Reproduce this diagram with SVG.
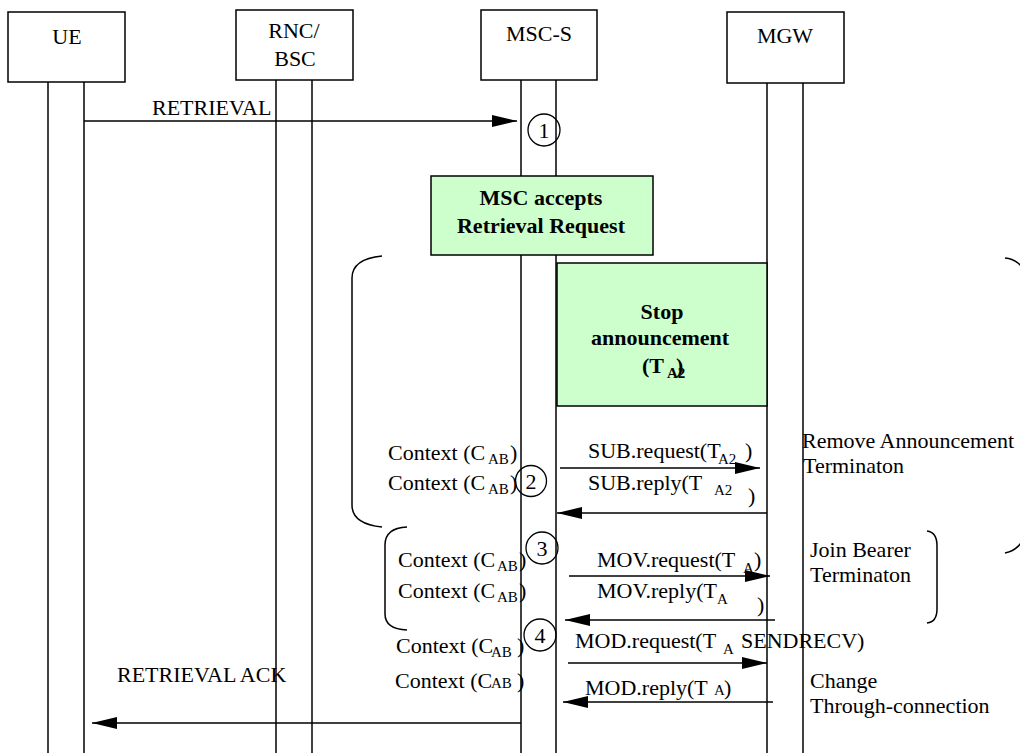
<svg xmlns="http://www.w3.org/2000/svg" width="1020" height="753" viewBox="0 0 1020 753">
<defs>
<marker id="ah" markerUnits="userSpaceOnUse" markerWidth="25" markerHeight="12" refX="25" refY="6" orient="auto">
<path d="M0,0 L25,6 L0,12 z" fill="#000"/>
</marker>
<style>
.t{font-family:"Liberation Serif","Times New Roman",serif;font-size:22px;fill:#000}
.s{font-family:"Liberation Serif","Times New Roman",serif;font-size:15px;fill:#000}
.b{font-family:"Liberation Serif","Times New Roman",serif;font-size:22px;font-weight:bold;fill:#000}
.bs{font-family:"Liberation Serif","Times New Roman",serif;font-size:15px;font-weight:bold;fill:#000}
.box{fill:#fff;stroke:#000;stroke-width:1.5}
.act{fill:#ccffcc;stroke:#000;stroke-width:1.5}
.ll{stroke:#000;stroke-width:1.5;fill:none}
.msg{stroke:#000;stroke-width:1.5;fill:none}
.br{stroke:#000;stroke-width:1.5;fill:none}
.c{fill:none;stroke:#000;stroke-width:1.3}
</style>
</defs>
<g id="lifelines">
<line class="ll" x1="48" y1="82" x2="48" y2="753"/>
<line class="ll" x1="84" y1="82" x2="84" y2="753"/>
<line class="ll" x1="276" y1="80" x2="276" y2="753"/>
<line class="ll" x1="312" y1="80" x2="312" y2="753"/>
<line class="ll" x1="521" y1="80" x2="521" y2="753"/>
<line class="ll" x1="556" y1="80" x2="556" y2="753"/>
<line class="ll" x1="767" y1="83" x2="767" y2="753"/>
<line class="ll" x1="803" y1="83" x2="803" y2="753"/>
</g>
<g id="UE">
<rect class="box" x="8" y="12" width="117" height="70"/>
<text class="t" x="67" y="44" text-anchor="middle">UE</text>
</g>
<g id="RNC">
<rect class="box" x="236" y="10" width="117" height="70"/>
<text class="t" x="294" y="38" text-anchor="middle">RNC/</text>
<text class="t" x="295" y="66" text-anchor="middle">BSC</text>
</g>
<g id="MSC">
<rect class="box" x="481" y="10" width="116" height="70"/>
<text class="t" x="539" y="41" text-anchor="middle">MSC-S</text>
</g>
<g id="MGW">
<rect class="box" x="727" y="12" width="117" height="71"/>
<text class="t" x="785" y="43" text-anchor="middle">MGW</text>
</g>
<g id="accept">
<rect class="act" x="431" y="176" width="222" height="79"/>
<text class="b" x="541" y="205" text-anchor="middle">MSC accepts</text>
<text class="b" x="541" y="233" text-anchor="middle">Retrieval Request</text>
</g>
<g id="stop">
<rect class="act" x="557" y="263" width="210" height="143"/>
<text class="b" x="662" y="319" text-anchor="middle">Stop</text>
<text class="b" x="660" y="345" text-anchor="middle">announcement</text>
<text class="b" x="642" y="373">(T</text>
<text class="b" x="676" y="373">)</text>
<text class="bs" x="667" y="378">A2</text>
</g>
<g id="steps">
<circle class="c" cx="544" cy="130" r="16"/>
<text class="t" x="544" y="138" text-anchor="middle" font-size="21">1</text>
<circle class="c" cx="531" cy="481" r="15.5"/>
<text class="t" x="531" y="489" text-anchor="middle">2</text>
<circle class="c" cx="542" cy="548" r="16"/>
<text class="t" x="542" y="556" text-anchor="middle">3</text>
<circle class="c" cx="540" cy="635" r="16"/>
<text class="t" x="540" y="643" text-anchor="middle">4</text>
</g>
<g id="brackets">
<path class="br" d="M382,256 Q352,259 352,278 L352,505 Q352,524 382,527"/>
<path class="br" d="M407,527 Q385,528 385,545 L385,614 Q385,629 407,630"/>
<path class="br" d="M927,531 Q937,532 937,546 L937,609 Q937,622 927,623"/>
<path class="br" d="M1005,258 Q1015,259 1021,266"/>
<path class="br" d="M1005,553 Q1015,551 1021,543"/>
</g>
<g id="connectors">
<line class="msg" x1="84" y1="121" x2="517" y2="121" marker-end="url(#ah)"/>
<line class="msg" x1="560" y1="468" x2="760" y2="468" marker-end="url(#ah)"/>
<line class="msg" x1="767" y1="513" x2="557" y2="513" marker-end="url(#ah)"/>
<line class="msg" x1="569" y1="576" x2="770" y2="576" marker-end="url(#ah)"/>
<line class="msg" x1="775" y1="620" x2="565" y2="620" marker-end="url(#ah)"/>
<line class="msg" x1="568" y1="663" x2="767" y2="663" marker-end="url(#ah)"/>
<line class="msg" x1="773" y1="702" x2="563" y2="702" marker-end="url(#ah)"/>
<line class="msg" x1="521" y1="723" x2="92" y2="723" marker-end="url(#ah)"/>
</g>
<g id="labels">
<text class="t" x="152" y="115">RETRIEVAL</text>
<text class="t" x="117" y="682">RETRIEVAL ACK</text>
<text class="t" x="588" y="458" font-size="21">SUB.request(T</text>
<text class="s" x="718" y="464">A2</text>
<text class="t" x="745" y="458" font-size="21">)</text>
<text class="t" x="588" y="490" font-size="21">SUB.reply(T</text>
<text class="s" x="714" y="495">A2</text>
<text class="t" x="748" y="503" font-size="21">)</text>
<text class="t" x="597" y="567" font-size="21">MOV.request(T</text>
<text class="s" x="743" y="573">A</text>
<text class="t" x="754" y="567" font-size="21">)</text>
<text class="t" x="597" y="598" font-size="21">MOV.reply(T</text>
<text class="s" x="717" y="604">A</text>
<text class="t" x="757" y="612" font-size="21">)</text>
<text class="t" x="575" y="648" font-size="21">MOD.request(T</text>
<text class="s" x="723" y="654">A</text>
<text class="t" x="741" y="648" font-size="21">SENDRECV)</text>
<text class="t" x="585" y="695" font-size="21">MOD.reply(T</text>
<text class="s" x="714" y="695">A</text>
<text class="t" x="724" y="695" font-size="21">)</text>
<text class="t" x="388" y="460">Context (C</text>
<text class="s" x="488" y="464">AB</text>
<text class="t" x="510" y="460">)</text>
<text class="t" x="388" y="490">Context (C</text>
<text class="s" x="488" y="494">AB</text>
<text class="t" x="510" y="490">)</text>
<text class="t" x="398" y="567">Context (C</text>
<text class="s" x="497" y="571">AB</text>
<text class="t" x="519" y="567">)</text>
<text class="t" x="398" y="598">Context (C</text>
<text class="s" x="497" y="602">AB</text>
<text class="t" x="519" y="598">)</text>
<text class="t" x="396" y="653">Context (C</text>
<text class="s" x="491" y="657">AB</text>
<text class="t" x="517" y="653">)</text>
<text class="t" x="395" y="688">Context (C</text>
<text class="s" x="491" y="688">AB</text>
<text class="t" x="517" y="688">)</text>
<text class="t" x="802" y="448">Remove Announcement</text>
<text class="t" x="803" y="473">Terminaton</text>
<text class="t" x="810" y="557">Join Bearer</text>
<text class="t" x="810" y="582">Terminaton</text>
<text class="t" x="810" y="688">Change</text>
<text class="t" x="810" y="713">Through-connection</text>
</g>
</svg>
